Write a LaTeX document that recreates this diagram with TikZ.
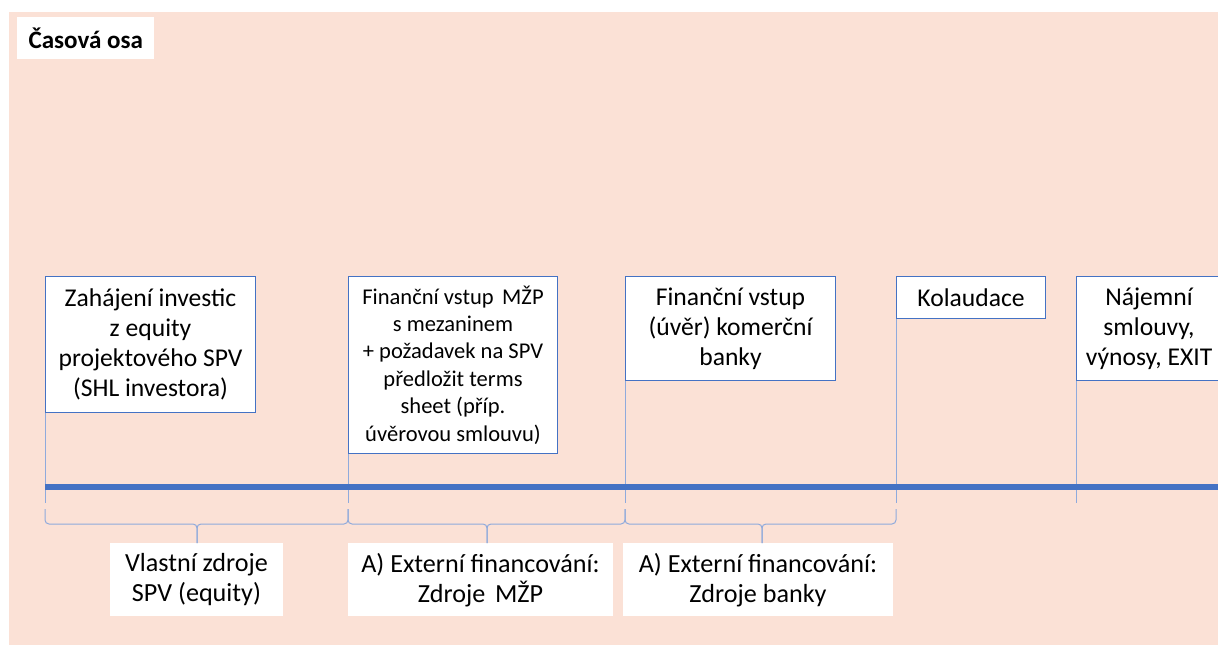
\documentclass[tikz,border=0pt]{standalone}
\usepackage{fontspec}
\setmainfont{Carlito}
\usetikzlibrary{positioning}
\definecolor{bgpink}{RGB}{251,225,214}
\definecolor{lineblue}{RGB}{68,114,196}
\definecolor{tickblue}{RGB}{143,170,220}
\frenchspacing

\begin{document}
\begin{tikzpicture}[x=0.75pt, y=-0.75pt,
    event/.style={rectangle, draw=lineblue, line width=0.8pt, fill=white, inner sep=0pt, anchor=north west, align=center, font=\fontsize{19.2}{22.5}\selectfont},
    source/.style={rectangle, fill=white, inner sep=0pt, anchor=north, align=center, minimum height=54.75pt, font=\fontsize{19.6}{22.5}\selectfont},
    tick/.style={draw=tickblue, line width=0.75pt},
    bracket/.style={draw=tickblue, line width=0.75pt, rounded corners=3pt}]
  \clip (0,0) rectangle (1218,645);
  \fill[bgpink] (9,12) rectangle (1218,645);

  \node[fill=white, minimum width=102.75pt, minimum height=31.5pt, anchor=north west, inner sep=0pt, font=\fontsize{18.8}{22}\selectfont\bfseries] (title) at (17,17) {Časová osa};

  \node[event, minimum width=157.5pt, minimum height=102pt] (zahajeni) at (45,276) {Zahájení investic\\z equity\\projektového SPV\\(SHL investora)};
  \node[event, minimum width=156.75pt, minimum height=132.75pt, font=\fontsize{16.9}{20.6}\selectfont] (vstupmzp) at (348,276) {Finanční vstup\hspace{0.15em} MŽP\\s mezaninem\\+ požadavek na SPV\\předložit terms\\sheet (příp.\\úvěrovou smlouvu)};
  \node[event, minimum width=157.5pt, minimum height=78pt] (vstupbanky) at (625,276) {Finanční vstup\\(úvěr) komerční\\banky};
  \node[event, minimum width=111.75pt, minimum height=31.5pt] (kolaudace) at (896,276) {Kolaudace};
  \node[event, minimum width=108.75pt, minimum height=78pt] (najem) at (1076,276) {Nájemní\\smlouvy,\\výnosy, EXIT};

  \node[source, minimum width=129.75pt] (vlastni) at (196.5,543) {Vlastní zdroje\\SPV (equity)};
  \node[source, minimum width=198.75pt] (extmzp) at (480.5,543) {A) Externí financování:\\Zdroje\hspace{0.15em} MŽP};
  \node[source, minimum width=202.5pt] (extbanky) at (758,543) {A) Externí financování:\\Zdroje banky};

  \coordinate (tickend) at (0,503);
  \coordinate (brk) at (0,509);
  \coordinate (brh) at (0,524);
  \coordinate (tipvl) at (197,543);
  \coordinate (tipmzp) at (487,543);
  \coordinate (tipbanky) at (762,543);

  \draw[tick] (zahajeni.south west) -- (zahajeni.south west |- tickend);
  \draw[tick] (vstupmzp.south west) -- (vstupmzp.south west |- tickend);
  \draw[tick] (vstupbanky.south west) -- (vstupbanky.south west |- tickend);
  \draw[tick] (kolaudace.south west) -- (kolaudace.south west |- tickend);
  \draw[tick] (najem.south west) -- (najem.south west |- tickend);

  \coordinate (start) at (45,487);
  \coordinate (end) at (1218,487);
  \draw[lineblue, line width=5pt] (start) -- (end);

  \draw[bracket] (zahajeni.south west |- brk) -- (zahajeni.south west |- brh) -- (tipvl |- brh) -- (tipvl);
  \draw[bracket] (vstupmzp.south west |- brk) -- (vstupmzp.south west |- brh) -- (tipvl |- brh) -- (tipvl);
  \draw[bracket] (vstupmzp.south west |- brk) -- (vstupmzp.south west |- brh) -- (tipmzp |- brh) -- (tipmzp);
  \draw[bracket] (vstupbanky.south west |- brk) -- (vstupbanky.south west |- brh) -- (tipmzp |- brh) -- (tipmzp);
  \draw[bracket] (vstupbanky.south west |- brk) -- (vstupbanky.south west |- brh) -- (tipbanky |- brh) -- (tipbanky);
  \draw[bracket] (kolaudace.south west |- brk) -- (kolaudace.south west |- brh) -- (tipbanky |- brh) -- (tipbanky);
\end{tikzpicture}
\end{document}
